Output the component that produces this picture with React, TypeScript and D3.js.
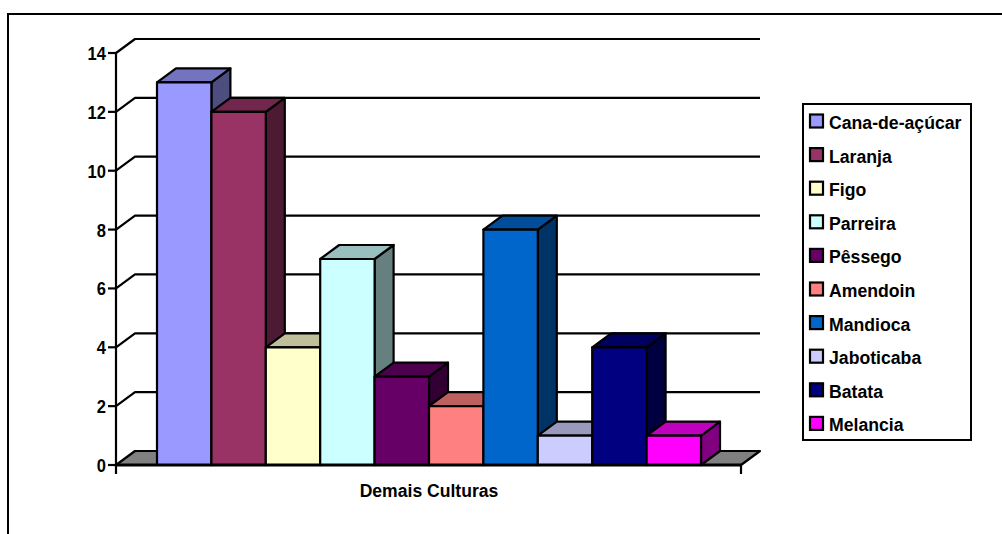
import React from "react";
import * as d3 from "d3";

const categories = ["Cana-de-açúcar", "Laranja", "Figo", "Parreira", "Pêssego", "Amendoin", "Mandioca", "Jaboticaba", "Batata", "Melancia"];
const values = [13, 12, 4, 7, 3, 2, 8, 1, 4, 1];
const colors = ["#9999ff", "#993366", "#ffffcc", "#ccffff", "#660066", "#ff8080", "#0066cc", "#ccccff", "#000080", "#ff00ff"];
const yTicks = [0, 2, 4, 6, 8, 10, 12, 14];
const groupLabel = "Demais Culturas";

const width = 1002;
const height = 534;
const depthX = 19;
const depthY = -14;
const font = "'Liberation Sans', Arial, sans-serif";

const y = d3.scaleLinear().domain([0, 14]).range([465, 53]);
const x = d3.scaleBand<string>().domain(categories).range([157, 701]).padding(0);
const axisX = d3.scalePoint<string>().domain(["start", "end"]).range([116, 741]);

const shade = (c: string, k: number) => {
  const rgb = d3.rgb(c);
  return d3.rgb(rgb.r * k, rgb.g * k, rgb.b * k).formatHex();
};
const pts = (list: [number, number][]) => list.map((p) => p.join(",")).join(" ");

// Bold labels set in a tall, slightly condensed face
function Label(props: { x: number; y: number; sx: number; anchor?: "start" | "middle" | "end"; children: React.ReactNode }) {
  return (
    <text
      transform={`translate(${props.x},${props.y}) scale(${props.sx},1)`}
      textAnchor={props.anchor ?? "start"}
      fontSize={19}
      fontWeight={700}
      fill="#000"
    >
      {props.children}
    </text>
  );
}

export default function App() {
  const x0 = axisX("start") as number;
  const x1 = axisX("end") as number;
  const base = y(0);
  const line = { stroke: "#000", strokeWidth: 2.2, strokeLinejoin: "round" as const };
  return (
    <svg
      width={width}
      height={height}
      style={{ position: "absolute", left: 0, top: 0, background: "#fff" }}
      fontFamily={font}
    >
      {/* outer frame: left and top edges */}
      <path d="M8,534 V14 H1002" fill="none" stroke="#000" strokeWidth={2} />

      {/* floor */}
      <polygon
        points={pts([[x0, base], [x0 + depthX, base + depthY], [x1 + depthX, base + depthY], [x1, base]])}
        fill="#808080"
        {...line}
      />

      {/* gridlines along wall and side */}
      {yTicks.filter((t) => t > 0).map((t) => (
        <polyline
          key={t}
          points={pts([[x0, y(t)], [x0 + depthX, y(t) + depthY], [x1 + depthX, y(t) + depthY]])}
          fill="none"
          {...line}
        />
      ))}

      {/* value axis with ticks and labels */}
      <line x1={x0} x2={x0} y1={y(14)} y2={base + 9} {...line} />
      {yTicks.map((t) => (
        <g key={t}>
          <line x1={x0 - 8} x2={x0} y1={y(t)} y2={y(t)} {...line} />
          <Label x={x0 - 10} y={y(t) + 7} sx={0.87} anchor="end">{t}</Label>
        </g>
      ))}

      {/* columns, left to right so later ones overlap earlier side faces */}
      {categories.map((c, i) => {
        const left = x(c) as number;
        const right = left + x.bandwidth();
        const top = y(values[i]);
        return (
          <g key={c} {...line}>
            <polygon points={pts([[right, top], [right + depthX, top + depthY], [right + depthX, base + depthY], [right, base]])} fill={shade(colors[i], 0.5)} />
            <polygon points={pts([[left, top], [left + depthX, top + depthY], [right + depthX, top + depthY], [right, top]])} fill={shade(colors[i], 0.75)} />
            <rect x={left} y={top} width={x.bandwidth()} height={base - top} fill={colors[i]} />
          </g>
        );
      })}

      {/* category axis */}
      <line x1={x0} x2={x1} y1={base} y2={base} stroke="#000" strokeWidth={3} />
      <line x1={x1} x2={x1} y1={base} y2={base + 9} {...line} />
      <Label x={429} y={497} sx={0.925} anchor="middle">{groupLabel}</Label>

      {/* legend */}
      <rect x={803} y={104} width={168} height={336} fill="#fff" stroke="#000" strokeWidth={2} />
      {categories.map((c, i) => {
        const ly = 121 + i * 33.6;
        return (
          <g key={c}>
            <rect x={810} y={ly - 6.5} width={13} height={13} fill={colors[i]} stroke="#000" strokeWidth={2.2} />
            <Label x={829} y={ly + 8} sx={0.93}>{c}</Label>
          </g>
        );
      })}
    </svg>
  );
}
